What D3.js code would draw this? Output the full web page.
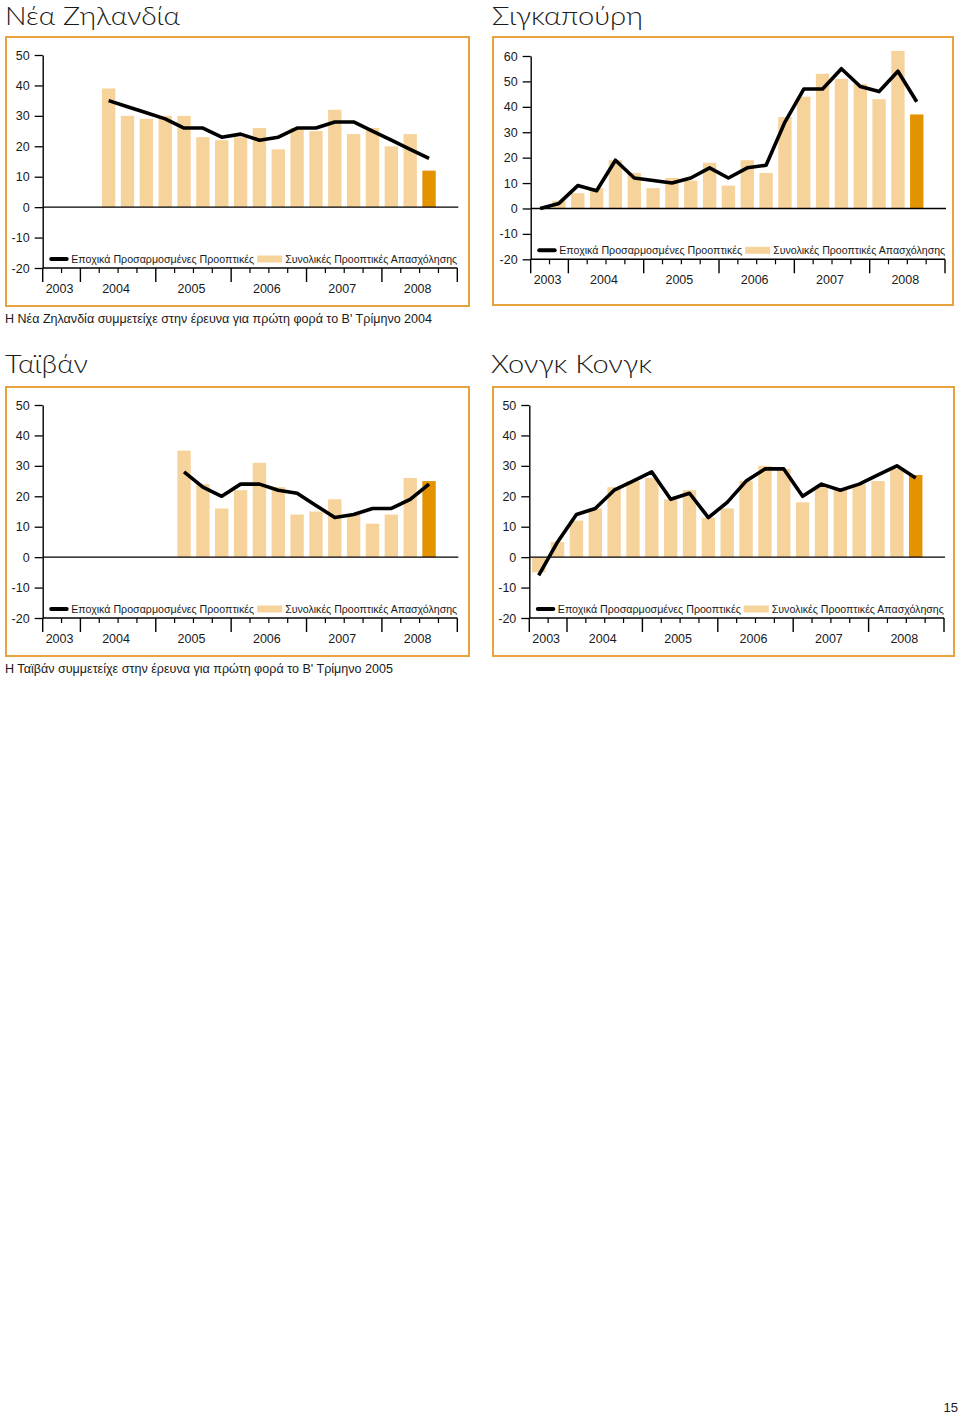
<!DOCTYPE html>
<html><head><meta charset="utf-8">
<script src="https://cdn.jsdelivr.net/npm/d3@7"></script>
<style>body{margin:0;background:#fff}svg{display:block}</style>
</head><body>
<svg id="c" width="960" height="1416"></svg>
<script>
// ---- data ----
const quarters = ["2003Q3","2003Q4",
  "2004Q1","2004Q2","2004Q3","2004Q4",
  "2005Q1","2005Q2","2005Q3","2005Q4",
  "2006Q1","2006Q2","2006Q3","2006Q4",
  "2007Q1","2007Q2","2007Q3","2007Q4",
  "2008Q1","2008Q2","2008Q3","2008Q4"];
const years = ["2003","2004","2005","2006","2007","2008"];
const currentQuarter = "2008Q3";

const nzBars = [null,null,null,39,30,29,30,30,23,22,23,26,19,26,25,32,24,26,20,24,12,null];
const nzLine = [null,null,null,35,33,31,29,26,26,23,24,22,23,26,26,28,28,25,22,19,16,null];

const sgBars = [null,3,6,8,19,14,8,12,11,18,9,19,14,36,44,53,51,49,43,62,37,null];
const sgLine = [0,2,9,7,19,12,11,10,12,16,12,16,17,34,47,47,55,48,46,54,42,null];

const twBars = [null,null,null,null,null,null,null,35,24,16,22,31,23,14,15,19,14,11,14,26,25,null];
const twLine = [null,null,null,null,null,null,null,28,23,20,24,24,22,21,17,13,14,16,16,19,24,null];

const hkBars = [-5,5,12,16,23,25,26,19,22,13,16,25,30,29,18,23,22,24,25,29,27,null];
const hkLine = [-6,5,14,16,22,25,28,19,21,13,18,25,29,29,20,24,22,24,27,30,26,null];

const ticks50 = [-20,-10,0,10,20,30,40,50];
const ticks60 = [-20,-10,0,10,20,30,40,50,60];

const legendLineLabel = "Εποχικά Προσαρμοσμένες Προοπτικές";
const legendBarLabel = "Συνολικές Προοπτικές Απασχόλησης";
const titleNZ = "Νέα Ζηλανδία", titleSG = "Σιγκαπούρη", titleTW = "Ταϊβάν", titleHK = "Χονγκ Κονγκ";
const noteNZ = "Η Νέα Ζηλανδία συμμετείχε στην έρευνα για πρώτη φορά το Β' Τρίμηνο 2004";
const noteTW = "Η Ταϊβάν συμμετείχε στην έρευνα για πρώτη φορά το Β' Τρίμηνο 2005";
const pageNumber = "15";

// ---- style ----
const BORDER = "#E6A33E", LIGHT = "#F7D39C", DARK = "#E39200", INK = "#1a1a1a";
const FONT = "'Liberation Sans', Arial, sans-serif";
const TFONT = "Lato, 'Open Sans', sans-serif";

const svg = d3.select("#c");

function panel(o){
  const g = svg.append("g");
  g.append("rect").attr("x",o.frame[0]).attr("y",o.frame[1]).attr("width",o.frame[2]).attr("height",o.frame[3])
    .attr("fill","none").attr("stroke",BORDER).attr("stroke-width",2);
  g.append("text").attr("x",o.title[1]).attr("y",o.title[2]).text(o.title[0])
    .attr("font-family",TFONT).attr("font-weight",300).attr("font-size",25).attr("fill",INK)
    .attr("textLength",o.title[3]).attr("lengthAdjust","spacingAndGlyphs");

  const x = d3.scaleBand().domain(quarters).range([o.ax,o.ar]);
  const y = d3.scaleLinear().domain(o.dom).range([o.yb,o.yt]);
  const bw = x.bandwidth()*0.71;
  const cx = q => x(q)+x.bandwidth()/2;

  const bd = quarters.map((q,i)=>({q,v:o.bars[i]})).filter(d=>d.v!=null);
  g.selectAll("rect.bar").data(bd).join("rect").attr("class","bar")
    .attr("x",d=>cx(d.q)-bw/2).attr("width",bw)
    .attr("y",d=>y(Math.max(0,d.v))).attr("height",d=>Math.abs(y(d.v)-y(0)))
    .attr("fill",d=>d.q===currentQuarter?DARK:LIGHT);

  // zero line
  g.append("line").attr("x1",o.ax).attr("x2",o.ar+1).attr("y1",y(0)).attr("y2",y(0))
    .attr("stroke","#000").attr("stroke-width",1.4);

  // y axis
  const ya = g.append("g").attr("transform",`translate(${o.ax},0)`)
    .call(d3.axisLeft(y).tickValues(o.ticks).tickFormat(d=>String(d)).tickSize(8).tickSizeOuter(0).tickPadding(5));
  ya.select(".domain").attr("stroke","#000").attr("stroke-width",1.4);
  ya.selectAll(".tick line").attr("stroke","#000").attr("stroke-width",1.3);
  ya.selectAll(".tick text").attr("font-family",FONT).attr("font-size",12.5).attr("fill",INK);

  // x axis (bottom, at domain minimum)
  const yb = y(o.dom[0]);
  g.append("line").attr("x1",o.ax).attr("x2",o.ar).attr("y1",yb).attr("y2",yb)
    .attr("stroke","#000").attr("stroke-width",1.4);
  const tk = quarters.map((q,i)=>({pos:x(q), big: i===0 || q.endsWith("Q1")}));
  tk.push({pos:o.ar, big:true});
  g.selectAll("line.xt").data(tk).join("line").attr("class","xt")
    .attr("x1",d=>d.pos).attr("x2",d=>d.pos).attr("y1",yb).attr("y2",d=>yb+(d.big?14:5))
    .attr("stroke","#000").attr("stroke-width",d=>d.big?1.4:1.2);
  const yl = years.map(yr=>{
    const qs = quarters.filter(q=>q.startsWith(yr));
    return {yr, mid:(x(qs[0])+x(qs[qs.length-1])+x.bandwidth())/2};
  });
  g.selectAll("text.yl").data(yl).join("text").attr("class","yl")
    .attr("x",d=>d.mid-2).attr("y",yb+25).attr("text-anchor","middle").text(d=>d.yr)
    .attr("font-family",FONT).attr("font-size",12.5).attr("fill",INK);

  // series line
  const ld = quarters.map((q,i)=>({q,v:o.line[i]})).filter(d=>d.v!=null);
  g.append("path").datum(ld).attr("d",d3.line().x(d=>cx(d.q)).y(d=>y(d.v)))
    .attr("fill","none").attr("stroke","#000").attr("stroke-width",3.6)
    .attr("stroke-linejoin","round").attr("stroke-linecap","butt");

  // legend
  const ly = yb-9, lx = o.ax+6.5;
  g.append("line").attr("x1",lx+2).attr("x2",lx+17.5).attr("y1",ly).attr("y2",ly)
    .attr("stroke","#000").attr("stroke-width",4).attr("stroke-linecap","round");
  g.append("text").attr("x",lx+22).attr("y",ly+4).text(legendLineLabel)
    .attr("font-family",FONT).attr("font-size",11.5).attr("fill",INK)
    .attr("textLength",183).attr("lengthAdjust","spacingAndGlyphs");
  g.append("rect").attr("x",lx+208).attr("y",ly-3.5).attr("width",25).attr("height",7).attr("fill",LIGHT);
  g.append("text").attr("x",lx+236).attr("y",ly+4).text(legendBarLabel)
    .attr("font-family",FONT).attr("font-size",11.5).attr("fill",INK)
    .attr("textLength",172).attr("lengthAdjust","spacingAndGlyphs");

  if(o.note){
    g.append("text").attr("x",5).attr("y",o.note[1]).text(o.note[0])
      .attr("font-family",FONT).attr("font-size",12.5).attr("fill",INK)
      .attr("textLength",o.note[2]).attr("lengthAdjust","spacingAndGlyphs");
  }
}

panel({frame:[6,37,463,269], title:[titleNZ,5,25,175], ax:42.7, ar:457.3, yt:55, yb:268,
  dom:[-20,50], ticks:ticks50, bars:nzBars, line:nzLine, note:[noteNZ,323,427]});
panel({frame:[493,37,460,268], title:[titleSG,492,25,151], ax:530.7, ar:945, yt:56, yb:259.3,
  dom:[-20,60], ticks:ticks60, bars:sgBars, line:sgLine});
panel({frame:[6,387,463,269], title:[titleTW,5,373,83], ax:42.7, ar:457.3, yt:405, yb:618,
  dom:[-20,50], ticks:ticks50, bars:twBars, line:twLine, note:[noteTW,673,388]});
panel({frame:[493,387,461,269], title:[titleHK,491,373,161], ax:529.3, ar:944, yt:405, yb:618,
  dom:[-20,50], ticks:ticks50, bars:hkBars, line:hkLine});

svg.append("text").attr("x",958).attr("y",1412).attr("text-anchor","end").text(pageNumber)
  .attr("font-family",FONT).attr("font-size",13).attr("fill",INK);
</script>
</body></html>
